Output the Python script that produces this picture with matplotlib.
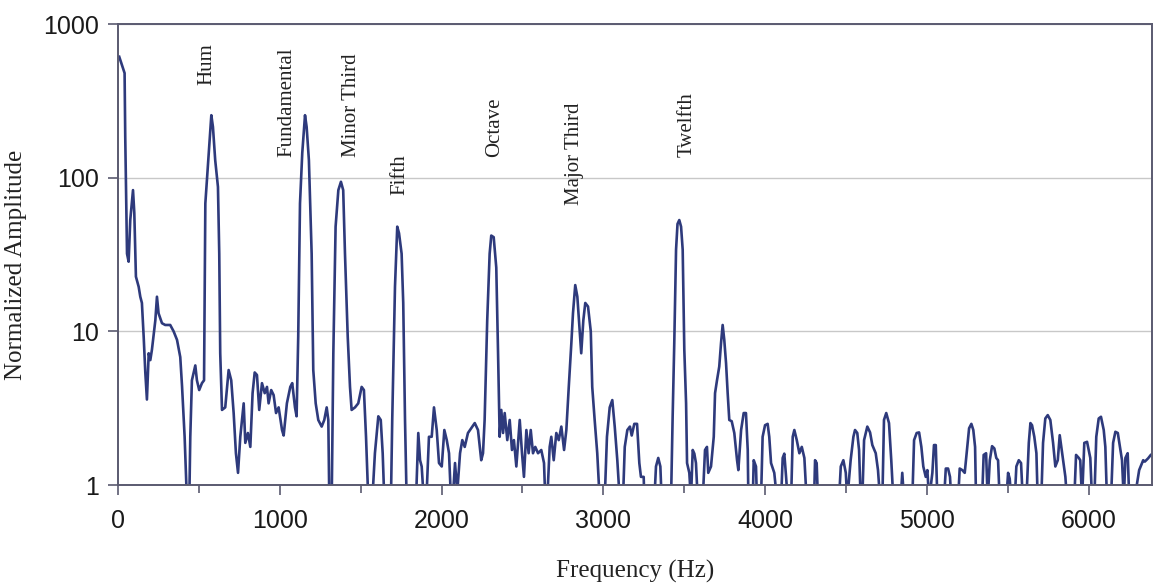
import matplotlib
matplotlib.use("Agg")
import matplotlib.pyplot as plt
from matplotlib.ticker import FixedLocator, NullFormatter

# ---- data ----
freq_hz = [
    8, 41, 45, 56, 66, 76, 93, 101, 111, 128, 138, 148, 159, 169, 179, 190, 200, 210,
    231, 241, 251, 272, 292, 323, 344, 365, 385, 396, 412, 426, 441, 447, 457, 478,
    488, 502, 519, 532, 540, 561, 577, 587, 601, 618, 626, 632, 643, 663, 684, 700,
    715, 729, 742, 756, 777, 787, 803, 818, 832, 845, 859, 873, 890, 907, 921, 931,
    947, 962, 977, 993, 1014, 1024, 1044, 1065, 1077, 1094, 1104, 1114, 1125, 1139,
    1156, 1166, 1180, 1197, 1207, 1222, 1238, 1259, 1275, 1290, 1300, 1306, 1321,
    1331, 1345, 1362, 1378, 1392, 1403, 1420, 1434, 1444, 1465, 1485, 1506, 1520,
    1533, 1547, 1572, 1588, 1609, 1624, 1636, 1646, 1687, 1695, 1712, 1726, 1737,
    1753, 1763, 1774, 1784, 1842, 1856, 1867, 1877, 1887, 1908, 1922, 1939, 1953,
    1970, 1984, 2001, 2017, 2032, 2046, 2056, 2072, 2083, 2097, 2114, 2128, 2143,
    2163, 2205, 2225, 2245, 2256, 2266, 2282, 2297, 2307, 2322, 2338, 2349, 2359,
    2369, 2380, 2390, 2406, 2421, 2435, 2447, 2462, 2483, 2497, 2509, 2524, 2538,
    2551, 2565, 2579, 2596, 2616, 2633, 2641, 2653, 2668, 2678, 2693, 2709, 2724,
    2740, 2757, 2771, 2786, 2802, 2812, 2826, 2839, 2849, 2863, 2876, 2888, 2905,
    2922, 2931, 2946, 2962, 2977, 3008, 3022, 3039, 3055, 3070, 3086, 3101, 3121,
    3132, 3148, 3164, 3175, 3191, 3208, 3222, 3232, 3249, 3253, 3315, 3325, 3339,
    3352, 3360, 3418, 3428, 3438, 3449, 3458, 3469, 3480, 3490, 3500, 3511, 3517,
    3531, 3541, 3552, 3562, 3572, 3583, 3614, 3628, 3640, 3648, 3665, 3682, 3690,
    3702, 3716, 3727, 3737, 3747, 3758, 3768, 3778, 3793, 3809, 3826, 3834, 3851,
    3867, 3881, 3892, 3896, 3923, 3929, 3943, 3949, 3974, 3984, 3999, 4015, 4025,
    4036, 4056, 4073, 4098, 4108, 4118, 4129, 4139, 4160, 4170, 4180, 4195, 4211,
    4226, 4242, 4256, 4302, 4308, 4318, 4326, 4456, 4467, 4483, 4498, 4507, 4528,
    4545, 4555, 4569, 4580, 4590, 4600, 4611, 4631, 4648, 4662, 4683, 4697, 4710,
    4724, 4734, 4748, 4765, 4779, 4792, 4837, 4847, 4858, 4909, 4920, 4936, 4951,
    4965, 4977, 4992, 5002, 5013, 5033, 5043, 5054, 5064, 5105, 5116, 5130, 5142,
    5150, 5192, 5202, 5218, 5233, 5245, 5260, 5274, 5286, 5297, 5303, 5340, 5350,
    5365, 5375, 5388, 5402, 5416, 5428, 5439, 5449, 5490, 5501, 5511, 5521, 5542,
    5552, 5567, 5581, 5592, 5614, 5629, 5639, 5649, 5663, 5676, 5684, 5706, 5717,
    5731, 5746, 5762, 5779, 5793, 5808, 5820, 5830, 5841, 5855, 5865, 5910, 5921,
    5938, 5947, 5958, 5972, 5989, 6009, 6020, 6034, 6046, 6061, 6075, 6092, 6102,
    6112, 6137, 6150, 6164, 6179, 6195, 6205, 6216, 6226, 6240, 6250, 6277, 6293,
    6311, 6336, 6346, 6366, 6383, 6398,
]
amplitude = [
    612, 479, 185, 32, 28.4, 53, 83, 59, 22.7, 19.5, 16.8, 15.3, 9.2, 5.4, 3.6, 7.2, 6.5, 7.6,
    11.8, 16.8, 13.1, 11.3, 11, 11, 10, 8.8, 6.8, 4.4, 2.06, 0.8, 0.8, 2.06, 4.8, 6.0,
    4.8, 4.15, 4.6, 4.8, 68, 145, 255, 214, 130, 87, 32, 7.2, 3.08, 3.2, 5.6, 4.8,
    2.94, 1.61, 1.2, 2.06, 3.4, 1.88, 2.18, 1.77, 3.96, 5.4, 5.2, 3.08, 4.6, 3.96, 4.35, 3.4,
    4.15, 3.85, 2.94, 3.2, 2.28, 2.1, 3.4, 4.35, 4.6, 3.2, 2.8, 9.2, 68, 145,
    255, 214, 130, 32, 5.6, 3.4, 2.65, 2.4, 2.65, 3.2, 2.65, 0.8, 0.8,
    7.2, 48, 83, 94, 83, 32, 9.2, 4.35, 3.08, 3.2, 3.4, 4.35, 4.15,
    2.06, 0.8, 0.8, 1.61, 2.8, 2.65, 1.61, 0.8, 0.8, 2.65, 19.5, 48, 43.5,
    32, 15.3, 2.65, 0.8, 0.8, 2.18, 1.45, 1.32, 0.9, 0.9, 2.06, 2.06, 3.2,
    2.28, 1.39, 1.32, 2.28, 1.96, 1.61, 0.9, 0.9, 1.39, 0.9, 1.61, 1.96, 1.77,
    2.18, 2.53, 2.28, 1.45, 1.61, 2.65, 11.8, 32, 42, 41, 26, 7.2, 2.06,
    3.08, 2.18, 2.94, 1.96, 2.65, 1.69, 1.96, 1.32, 2.65, 1.61, 1.13, 2.28, 1.61,
    2.28, 1.61, 1.77, 1.61, 1.69, 1.39, 0.8, 0.8, 1.77, 2.06, 1.45, 2.18, 1.96,
    2.4, 1.69, 2.28, 4.35, 8.4, 13.1, 20, 16.8, 11.8, 7.2, 11.8, 15.3, 14.5,
    10, 4.35, 2.65, 1.61, 0.8, 0.8, 2.06, 3.2, 3.57, 2.4, 1.45, 0.8, 0.8,
    1.77, 2.28, 2.4, 2.1, 2.5, 2.5, 1.39, 1.13, 1.13, 0.8, 0.8, 1.32, 1.5,
    1.32, 0.8, 0.8, 2.8, 8.4, 34, 50, 53, 48, 34, 7.6, 3.4, 1.39,
    1.2, 0.8, 1.69, 1.6, 1.39, 0.8, 0.8, 1.69, 1.77, 1.2, 1.32, 2.06, 3.96,
    4.8, 5.9, 8.4, 11, 8.8, 6.2, 3.96, 2.65, 2.6, 2.18, 1.45, 1.25, 2.28,
    2.94, 2.94, 1.69, 0.8, 0.8, 1.45, 1.32, 0.8, 0.8, 2.06, 2.45, 2.5, 2.06,
    1.39, 1.2, 0.8, 0.8, 1.5, 1.6, 1.13, 0.8, 0.8, 2.06, 2.28, 1.96, 1.61,
    1.77, 1.5, 0.8, 0.8, 1.45, 1.39, 0.8, 0.8, 1.32, 1.45, 1.2, 0.8, 1.45,
    2.06, 2.28, 2.18, 1.69, 0.8, 0.8, 1.96, 2.4, 2.2, 1.82, 1.61, 1.25, 0.8,
    0.8, 2.65, 2.94, 2.53, 1.45, 0.8, 0.8, 1.2, 0.8, 0.8, 1.96, 2.18, 2.2,
    1.77, 1.32, 1.13, 1.25, 0.8, 1.2, 1.82, 1.82, 0.8, 0.8, 1.28, 1.28, 1.13,
    0.8, 0.8, 1.28, 1.25, 1.2, 1.61, 2.34, 2.5, 2.28, 1.77, 0.8, 0.8, 1.57,
    1.61, 0.8, 1.45, 1.79, 1.73, 1.5, 1.45, 0.8, 0.8, 1.2, 1.1, 0.8, 0.8,
    1.32, 1.45, 1.39, 0.8, 0.8, 1.88, 2.53, 2.45, 2.06, 1.61, 0.8, 0.8, 1.88,
    2.71, 2.85, 2.65, 1.88, 1.32, 1.45, 2.11, 1.77, 1.45, 1.13, 0.8, 0.8, 1.57,
    1.5, 1.45, 0.8, 1.88, 1.91, 1.5, 0.8, 0.8, 2.06, 2.71, 2.78, 2.28, 1.77,
    0.8, 0.8, 1.88, 2.22, 2.18, 1.69, 1.45, 0.8, 1.5, 1.61, 0.8, 0.8, 0.95,
    1.25, 1.45, 1.42, 1.49, 1.57, 1.61,
]

peak_labels = ["Hum", "Fundamental", "Minor Third", "Fifth", "Octave", "Major Third", "Twelfth"]
label_freq = [550, 1044, 1446, 1743, 2330, 2824, 3517]
label_base_amp = [400, 136, 136, 77, 136, 66, 136]

x_major_ticks = [0, 1000, 2000, 3000, 4000, 5000, 6000]
x_minor_ticks = [500, 1500, 2500, 3500, 4500, 5500]
y_ticks = [1, 10, 100, 1000]
y_tick_labels = ["1", "10", "100", "1000"]

# ---- figure ----
fig = plt.figure(figsize=(11.61, 5.84), dpi=100)
ax = fig.add_axes([0.1016, 0.1695, 0.8906, 0.7894])

line_color = "#2e3a7c"
spine_color = "#5a5a70"

ax.set_yscale("log")
ax.plot(freq_hz, amplitude, color=line_color, lw=1.9, solid_joinstyle="round")
ax.set_xlim(0, 6390)
ax.set_ylim(1, 1000)

ax.yaxis.set_major_locator(FixedLocator(y_ticks))
ax.yaxis.set_minor_locator(FixedLocator([]))
ax.set_yticklabels(y_tick_labels)
ax.yaxis.set_minor_formatter(NullFormatter())
ax.set_xticks(x_major_ticks)
ax.set_xticks(x_minor_ticks, minor=True)

ax.grid(axis="y", which="major", color="#c8c8c8", lw=1.0)
ax.set_axisbelow(True)

for s in ax.spines.values():
    s.set_color(spine_color)
    s.set_linewidth(1.4)

ax.tick_params(axis="both", which="major", direction="out", length=7, width=1.2,
               color=spine_color, labelsize=18, labelcolor="#1a1a1a")
ax.tick_params(axis="x", which="minor", direction="out", length=6, width=1.2, color=spine_color)
ax.tick_params(axis="x", which="major", pad=10)
ax.tick_params(axis="y", which="major", pad=7)
for lab in ax.get_xticklabels() + ax.get_yticklabels():
    lab.set_fontfamily("Liberation Sans")

serif = "Liberation Serif"
ax.set_xlabel("Frequency (Hz)", family=serif, fontsize=18, color="#222222", labelpad=20)
ax.set_ylabel("Normalized Amplitude", family=serif, fontsize=18, color="#222222")
ax.yaxis.set_label_coords(-0.088, 0.477)

for name, fx, fy in zip(peak_labels, label_freq, label_base_amp):
    ax.text(fx, fy, name, rotation=90, ha="center", va="bottom",
            family=serif, fontsize=15, color="#222222")

fig.savefig("out.png", dpi=100, facecolor="white")
